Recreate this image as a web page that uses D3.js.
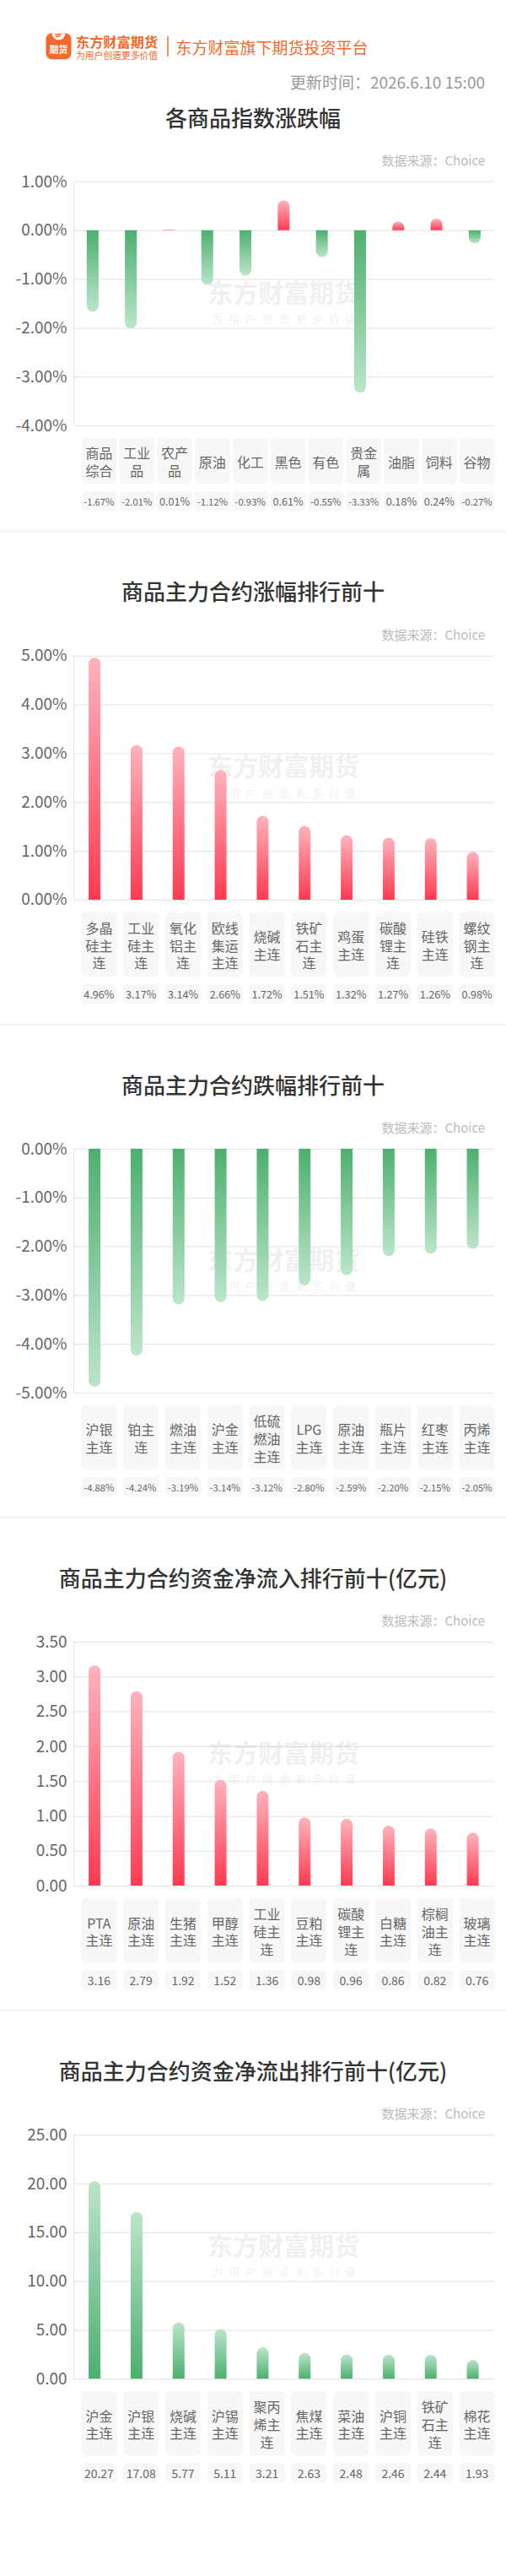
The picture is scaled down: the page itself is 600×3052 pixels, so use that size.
<!DOCTYPE html>
<html>
<head>
<meta charset="utf-8">
<script src="https://cdn.jsdelivr.net/npm/d3@7"></script>
<style>
  body { margin: 0; background: #fff; }
  svg { display: block; font-family: "Noto Sans CJK SC", "Noto Sans", sans-serif; }
</style>
</head>
<body>
<div id="chart"></div>
<script>
// index change by commodity group (%)
const idxCats = ["商品综合", "工业品", "农产品", "原油", "化工", "黑色", "有色", "贵金属", "油脂", "饲料", "谷物"];
const idxVals = [-1.67, -2.01, 0.01, -1.12, -0.93, 0.61, -0.55, -3.33, 0.18, 0.24, -0.27];
const idxTicks = [1, 0, -1, -2, -3, -4];

// top 10 gainers (%)
const upCats = ["多晶硅主连", "工业硅主连", "氧化铝主连", "欧线集运主连", "烧碱主连", "铁矿石主连", "鸡蛋主连", "碳酸锂主连", "硅铁主连", "螺纹钢主连"];
const upVals = [4.96, 3.17, 3.14, 2.66, 1.72, 1.51, 1.32, 1.27, 1.26, 0.98];
const upTicks = [5, 4, 3, 2, 1, 0];

// top 10 losers (%)
const downCats = ["沪银主连", "铂主连", "燃油主连", "沪金主连", "低硫燃油主连", "LPG主连", "原油主连", "瓶片主连", "红枣主连", "丙烯主连"];
const downVals = [-4.88, -4.24, -3.19, -3.14, -3.12, -2.80, -2.59, -2.20, -2.15, -2.05];
const downTicks = [0, -1, -2, -3, -4, -5];

// net inflow (亿元)
const inCats = ["PTA主连", "原油主连", "生猪主连", "甲醇主连", "工业硅主连", "豆粕主连", "碳酸锂主连", "白糖主连", "棕榈油主连", "玻璃主连"];
const inVals = [3.16, 2.79, 1.92, 1.52, 1.36, 0.98, 0.96, 0.86, 0.82, 0.76];
const inTicks = [3.5, 3, 2.5, 2, 1.5, 1, 0.5, 0];

// net outflow (亿元)
const outCats = ["沪金主连", "沪银主连", "烧碱主连", "沪锡主连", "聚丙烯主连", "焦煤主连", "菜油主连", "沪铜主连", "铁矿石主连", "棉花主连"];
const outVals = [20.27, 17.08, 5.77, 5.11, 3.21, 2.63, 2.48, 2.46, 2.44, 1.93];
const outTicks = [25, 20, 15, 10, 5, 0];

const pct = d => d.toFixed(2) + "%";
const num = d => d.toFixed(2);

const charts = [
  { title: "各商品指数涨跌幅", cats: idxCats, vals: idxVals, ticks: idxTicks, fmt: pct, color: null },
  { title: "商品主力合约涨幅排行前十", cats: upCats, vals: upVals, ticks: upTicks, fmt: pct, color: "red" },
  { title: "商品主力合约跌幅排行前十", cats: downCats, vals: downVals, ticks: downTicks, fmt: pct, color: "green" },
  { title: "商品主力合约资金净流入排行前十(亿元)", cats: inCats, vals: inVals, ticks: inTicks, fmt: num, color: "red" },
  { title: "商品主力合约资金净流出排行前十(亿元)", cats: outCats, vals: outVals, ticks: outTicks, fmt: num, color: "green" }
];

const width = 600, height = 3052;
const orange = "#f26a2c";
const plotL = 87.2, plotR = 585.5, plotH = 289;
const boxL = 96.4, boxR = 586.6, boxW = 42;

const svg = d3.select("#chart").append("svg")
  .attr("width", width)
  .attr("height", height);

svg.append("rect").attr("width", width).attr("height", height).attr("fill", "#fff");

// gradients: dark at the baseline, light at the tip
const defs = svg.append("defs");
function grad(id, dark, light, up) {
  const g = defs.append("linearGradient").attr("id", id)
    .attr("x1", 0).attr("x2", 0)
    .attr("y1", up ? 1 : 0).attr("y2", up ? 0 : 1);
  g.append("stop").attr("offset", "0%").attr("stop-color", dark);
  g.append("stop").attr("offset", "100%").attr("stop-color", light);
}
grad("redUp", "#ff3a50", "#ffb3bd", true);
grad("redDown", "#ff3a50", "#ffb3bd", false);
grad("greenUp", "#4cb06e", "#bce5ca", true);
grad("greenDown", "#4cb06e", "#bce5ca", false);

// header
const logo = svg.append("g");
logo.append("rect").attr("x", 54.5).attr("y", 39.3).attr("width", 30).attr("height", 31)
  .attr("rx", 7).attr("fill", orange);
logo.append("path")
  .attr("d", "M61.5,39.3 A8,8 0 0 0 77.5,39.3 Z")
  .attr("fill", "#fff");
logo.append("path").attr("d", "M65,41 L73,40.5 M66,43.5 L72,42.8")
  .attr("stroke", orange).attr("stroke-width", 1.3).attr("fill", "none");
logo.append("text").attr("x", 69.5).attr("y", 62.5)
  .attr("text-anchor", "middle").attr("font-size", 11).attr("font-weight", "bold")
  .attr("fill", "#fff").text("期货");
logo.append("text").attr("x", 90).attr("y", 49).attr("dominant-baseline", "central")
  .attr("font-size", 16.2).attr("font-weight", "bold").attr("fill", orange).text("东方财富期货");
logo.append("text").attr("x", 90).attr("y", 65).attr("dominant-baseline", "central")
  .attr("font-size", 10.8).attr("fill", orange).text("为用户创造更多价值");
logo.append("line").attr("x1", 199).attr("x2", 199).attr("y1", 43).attr("y2", 67)
  .attr("stroke", orange).attr("stroke-width", 1.5);
logo.append("text").attr("x", 208.5).attr("y", 55).attr("dominant-baseline", "central")
  .attr("font-size", 19).attr("fill", orange).text("东方财富旗下期货投资平台");

svg.append("text").attr("x", 575).attr("y", 96.7).attr("text-anchor", "end")
  .attr("dominant-baseline", "central").attr("font-size", 19).attr("fill", "#999")
  .text("更新时间：2026.6.10 15:00");

// hidden text for measuring label widths
const meas = svg.append("text").attr("font-size", 16).attr("visibility", "hidden");
function textW(s, size) {
  meas.attr("font-size", size).text(s);
  return meas.node().getComputedTextLength();
}
function wrap(label) {
  const tokens = label.match(/[A-Za-z0-9]+|./g);
  const lines = [];
  let cur = "";
  tokens.forEach(t => {
    if (cur && textW(cur + t, 16) > 34) { lines.push(cur); cur = t; }
    else cur += t;
  });
  if (cur) lines.push(cur);
  return lines;
}

function barPath(x0, w, y0, y1) {
  const r = w / 2, len = Math.abs(y1 - y0);
  if (len <= r) {
    const top = Math.min(y0, y1);
    return `M${x0},${top}h${w}v${Math.max(len, 0.8)}h${-w}Z`;
  }
  if (y1 < y0) {
    return `M${x0},${y0}L${x0},${y1 + r}A${r},${r} 0 0 1 ${x0 + w},${y1 + r}L${x0 + w},${y0}Z`;
  }
  return `M${x0},${y0}L${x0},${y1 - r}A${r},${r} 0 0 0 ${x0 + w},${y1 - r}L${x0 + w},${y0}Z`;
}

let plotTop = 215;
charts.forEach((c, ci) => {
  const plotBottom = plotTop + plotH;
  const g = svg.append("g");

  g.append("text").attr("x", 300).attr("y", plotTop - 77)
    .attr("text-anchor", "middle").attr("dominant-baseline", "central")
    .attr("font-size", 26).attr("font-weight", 500).attr("fill", "#333").text(c.title);

  g.append("text").attr("x", 575).attr("y", plotTop - 25.5)
    .attr("text-anchor", "end").attr("dominant-baseline", "central")
    .attr("font-size", 15).attr("fill", "#bbb").text("数据来源：Choice");

  const y = d3.scaleLinear().domain(d3.extent(c.ticks)).range([plotBottom, plotTop]);
  const x = d3.scaleBand().domain(c.cats).range([plotL, plotR]);

  const axis = g.append("g")
    .attr("transform", `translate(${plotL},0)`)
    .call(d3.axisLeft(y).tickValues(c.ticks).tickFormat(c.fmt)
      .tickSize(-(plotR - plotL)).tickSizeOuter(0).tickPadding(7.6));
  axis.select(".domain").attr("stroke", "#e2e2e2");
  axis.selectAll(".tick line").attr("stroke", "#e6e6e6").attr("stroke-width", 1.2);
  axis.selectAll(".tick text").attr("font-size", 19).attr("fill", "#666")
    .attr("font-family", "'Noto Sans CJK SC', sans-serif");

  // watermark
  const midX = (plotL + plotR) / 2, midY = (plotTop + plotBottom) / 2;
  g.append("text").attr("x", midX).attr("y", midY - 15)
    .attr("text-anchor", "middle").attr("dominant-baseline", "central")
    .attr("font-size", 30).attr("font-weight", "bold").attr("fill", "#000").attr("opacity", 0.055)
    .text("东方财富期货");
  g.append("text").attr("x", midX + 4).attr("y", midY + 18)
    .attr("text-anchor", "middle").attr("dominant-baseline", "central")
    .attr("font-size", 12.5).attr("letter-spacing", 7.2).attr("fill", "#000").attr("opacity", 0.055)
    .text("为用户创造更多价值");

  const bw = 14;
  g.selectAll(".bar")
    .data(c.cats.map((k, i) => ({ k, v: c.vals[i] })))
    .enter().append("path")
    .attr("class", "bar")
    .attr("d", d => barPath(x(d.k) + x.bandwidth() / 2 - bw / 2, bw, y(0), y(d.v)))
    .attr("fill", d => {
      const col = c.color || (d.v >= 0 ? "red" : "green");
      return `url(#${col}${d.v >= 0 ? "Up" : "Down"})`;
    });

  // category and value boxes
  const p = d3.scalePoint().domain(c.cats).range([boxL + boxW / 2, boxR - boxW / 2]);
  const wrapped = c.cats.map(wrap);
  const maxLines = d3.max(wrapped, l => l.length);
  const boxTop = plotBottom + 14.5;
  const boxH = 10 + maxLines * 22.2;
  const valTop = boxTop + boxH + 9;
  const valH = 23.3;
  const lineH = 20.7;

  c.cats.forEach((k, i) => {
    const cx = p(k);
    g.append("rect").attr("x", cx - boxW / 2).attr("y", boxTop).attr("width", boxW)
      .attr("height", boxH).attr("rx", 5).attr("fill", "#f7f7f7");
    const lines = wrapped[i];
    const t = g.append("text").attr("text-anchor", "middle").attr("font-size", 16).attr("fill", "#666");
    const cy = boxTop + boxH / 2 + 1;
    lines.forEach((ln, j) => {
      t.append("tspan").attr("x", cx)
        .attr("y", cy + (j - (lines.length - 1) / 2) * lineH)
        .attr("dominant-baseline", "central").text(ln);
    });

    g.append("rect").attr("x", cx - boxW / 2).attr("y", valTop).attr("width", boxW)
      .attr("height", valH).attr("rx", 5).attr("fill", "#f7f7f7");
    const label = c.fmt(c.vals[i]);
    let fs = 14;
    const w = textW(label, fs);
    if (w > 38) fs = fs * 36.3 / w;
    g.append("text").attr("x", cx).attr("y", valTop + valH / 2)
      .attr("text-anchor", "middle").attr("dominant-baseline", "central")
      .attr("font-size", fs).attr("fill", "#666").text(label);
  });

  const sep = valTop + valH + 24.7;
  if (ci < charts.length - 1) {
    g.append("rect").attr("x", 0).attr("y", sep - 1).attr("width", width).attr("height", 2)
      .attr("fill", "#f3f3f3");
  }
  plotTop = sep + 147;
});
</script>
</body>
</html>
